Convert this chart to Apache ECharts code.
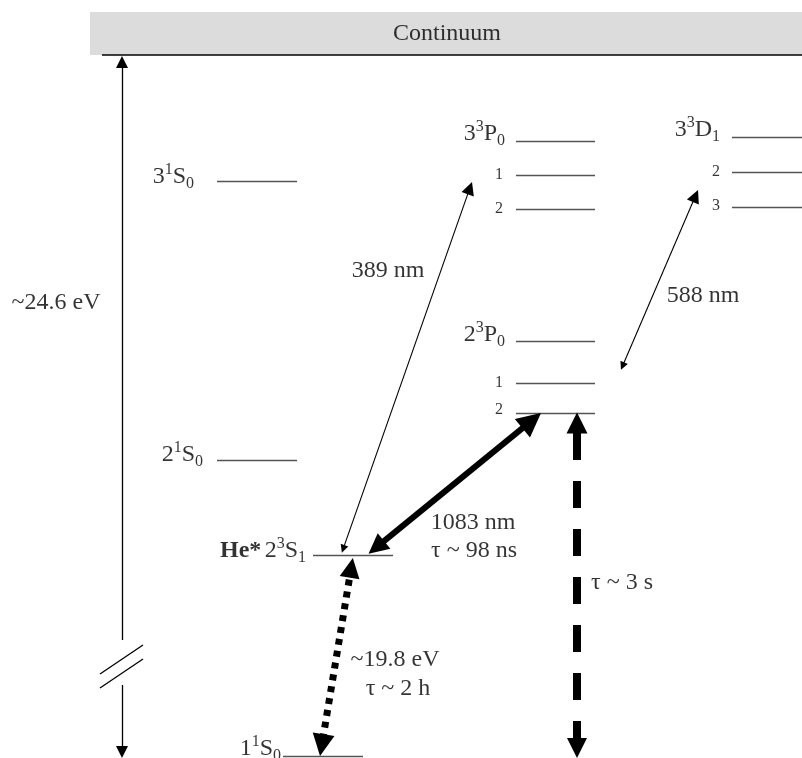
<!DOCTYPE html>
<html>
<head>
<meta charset="utf-8">
<script src="https://cdn.jsdelivr.net/npm/echarts@6/dist/echarts.min.js"></script>
<style>html,body{margin:0;padding:0;background:#fff}#c{width:802px;height:758px}</style>
</head>
<body>
<div id="c"></div>
<script>
// Schematic coordinates (x: horizontal position, y: vertical position, top = 0)
const levels = [
  // [x1, x2, y]
  [217, 297, 181],  // 3^1S0
  [217, 297, 460],  // 2^1S0
  [313, 393, 555],  // He* 2^3S1
  [283, 363, 756],  // 1^1S0
  [516, 595, 141],  // 3^3P0
  [516, 595, 175],  // 3^3P1
  [516, 595, 209],  // 3^3P2
  [516, 595, 341],  // 2^3P0
  [516, 595, 383],  // 2^3P1
  [516, 595, 413],  // 2^3P2
  [732, 802, 137],  // 3^3D1
  [732, 802, 172],  // 3^3D2
  [732, 802, 207]   // 3^3D3
];
const levelLabels = [
  // [text, right x, y]
  ['{n|3}{sup|1}{n|S}{sub|0}', 194, 177],
  ['{n|2}{sup|1}{n|S}{sub|0}', 203, 455],
  ['{b|He*} {n|2}{sup|3}{n|S}{sub|1}', 306, 551],
  ['{n|1}{sup|1}{n|S}{sub|0}', 281, 749],
  ['{n|3}{sup|3}{n|P}{sub|0}', 505, 134],
  ['{s|1}', 503, 175],
  ['{s|2}', 503, 209],
  ['{n|2}{sup|3}{n|P}{sub|0}', 505, 335],
  ['{s|1}', 503, 383],
  ['{s|2}', 503, 410],
  ['{n|3}{sup|3}{n|D}{sub|1}', 720, 130],
  ['{s|2}', 720, 172],
  ['{s|3}', 720, 206]
];
const textLabels = [
  // [text, center x, center y]
  ['Continuum', 447, 34],
  ['~24.6 eV', 56, 303],
  ['389 nm', 388, 271],
  ['588 nm', 703, 296],
  ['1083 nm', 473, 523],
  ['τ ~ 98 ns', 474, 551],
  ['τ ~ 3 s', 622, 583],
  ['~19.8 eV', 395, 660],
  ['τ ~ 2 h', 398, 689]
];
// arrows given by their tip points
const thinArrows = [
  [[341, 555], [472, 182]],   // 389 nm
  [[620, 372], [698, 190]]    // 588 nm
];
const thickArrow = [[[367, 555], [541, 413]]];   // 1083 nm
const dashedArrow = [[[577, 413], [577, 758]]];  // tau ~ 3 s
const dottedArrow = [[[353, 557], [320, 756]]];  // 19.8 eV
const axisUp = [[[122, 640], [122, 56]]];
const axisDown = [[[122, 685], [122, 758]]];
const slashes = [
  [[100, 674], [143, 645]],
  [[100, 688], [143, 659]]
];
const continuumBand = [[90, 12], [802, 55]];
const continuumLine = [[[102, 55], [802, 55]]];

const FONT = 'Liberation Serif';
const rich = {
  n: {fontFamily: FONT, fontSize: 24, color: '#000', lineHeight: 30, verticalAlign: 'middle'},
  b: {fontFamily: FONT, fontSize: 24, color: '#000', fontWeight: 'bold', lineHeight: 30, verticalAlign: 'middle'},
  sup: {fontFamily: FONT, fontSize: 16, color: '#000', lineHeight: 16, verticalAlign: 'top'},
  sub: {fontFamily: FONT, fontSize: 16, color: '#000', lineHeight: 16, verticalAlign: 'bottom'},
  s: {fontFamily: FONT, fontSize: 16, color: '#000', lineHeight: 30, verticalAlign: 'middle'}
};

// pull an arrow end back by half the arrow-head length so the head's tip lands on the point
function pullBack(seg, startHead, endHead) {
  const [a, b] = seg;
  const dx = b[0] - a[0], dy = b[1] - a[1];
  const L = Math.hypot(dx, dy);
  const ux = dx / L, uy = dy / L;
  const s = startHead / 2, e = endHead / 2;
  return [[a[0] + ux * s, a[1] + uy * s], [b[0] - ux * e, b[1] - uy * e]];
}

const chart = echarts.init(document.getElementById('c'));
function linesSeries(data, style, symbol, symbolSize) {
  const sym = symbol || ['none', 'none'];
  const h = Array.isArray(symbolSize) ? symbolSize[1] : (symbolSize || 0);
  return {
    type: 'lines', coordinateSystem: 'cartesian2d', clip: false, silent: true,
    symbol: sym, symbolSize: symbolSize || 10,
    lineStyle: Object.assign({color: '#000', width: 1, opacity: 1, cap: 'butt'}, style),
    itemStyle: {color: '#000'},
    data: data.map(c => ({coords: pullBack(c, sym[0] === 'none' ? 0 : h, sym[1] === 'none' ? 0 : h)}))
  };
}
chart.setOption({
  animation: false,
  grid: {left: 0, right: 0, top: 0, bottom: 0},
  xAxis: {type: 'value', min: 0, max: 802, show: false},
  yAxis: {type: 'value', min: 0, max: 758, inverse: true, show: false},
  series: [
    {
      type: 'scatter', symbolSize: 0, silent: true, data: [],
      markArea: {silent: true, itemStyle: {color: '#dcdcdc'},
        data: [[{coord: continuumBand[0]}, {coord: continuumBand[1]}]]}
    },
    linesSeries(continuumLine, {width: 1.5}),
    linesSeries(levels.map(l => [[l[0], l[2]], [l[1], l[2]]]), {color: '#555', width: 1.3}),
    linesSeries(axisUp, {width: 1.3}, ['none', 'triangle'], [9, 12]),
    linesSeries(axisDown, {width: 1.3}, ['none', 'triangle'], [9, 12]),
    linesSeries(slashes, {width: 1.3}),
    linesSeries(thinArrows, {width: 1.1}, ['triangle', 'triangle'], [8, 13]),
    linesSeries(thickArrow, {width: 6}, ['triangle', 'triangle'], [20, 24]),
    linesSeries(dashedArrow, {width: 8, type: [27, 21], dashOffset: 38}, ['triangle', 'triangle'], [21, 20]),
    linesSeries(dottedArrow, {width: 7, type: [6, 6]}, ['triangle', 'triangle'], [20, 22]),
    {
      type: 'scatter', symbolSize: 0, silent: true,
      data: levelLabels.map(l => ({value: [l[1], l[2]], name: l[0]})),
      label: {show: true, position: 'left', distance: 0, formatter: p => p.name, rich: rich}
    },
    {
      type: 'scatter', symbolSize: 0, silent: true,
      data: textLabels.map(l => ({value: [l[1], l[2]], name: l[0]})),
      label: {show: true, position: 'inside', formatter: p => p.name,
        fontFamily: FONT, fontSize: 24, color: '#000'}
    }
  ]
});
</script>
</body>
</html>
